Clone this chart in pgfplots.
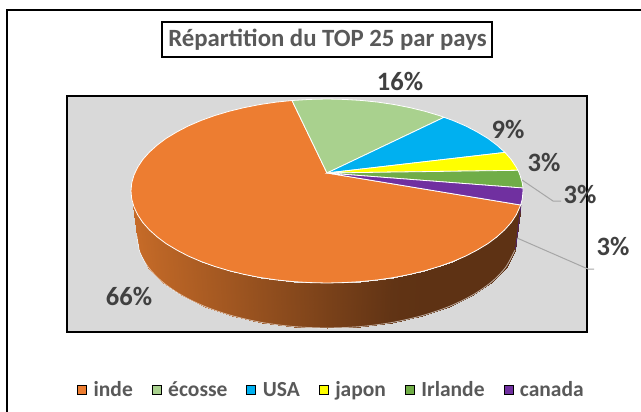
\documentclass[border=0pt]{standalone}
\usepackage{pgfplots}
\pgfplotsset{compat=1.18}
\usepackage{fontspec}
\setmainfont{Carlito}
\definecolor{cInde}{HTML}{ED7D31}
\definecolor{cEcosse}{HTML}{A9D18E}
\definecolor{cUSA}{HTML}{00B0F0}
\definecolor{cJapon}{HTML}{FFFF00}
\definecolor{cIrl}{HTML}{70AD47}
\definecolor{cCan}{HTML}{7030A0}
\definecolor{tLeg}{HTML}{595959}
\definecolor{tLab}{HTML}{404040}
\definecolor{bgG}{HTML}{D9D9D9}
\definecolor{lead}{HTML}{A6A6A6}
\newcommand{\lab}[3]{\node[text=tLab,font=\bfseries\fontsize{26.5}{26.5}\selectfont,inner sep=0pt] at (axis cs:#1,#2) {#3};}
\begin{document}
\begin{tikzpicture}
\path[use as bounding box] (0,0) rectangle (641pt,412pt);
\begin{axis}[
  hide axis, scale only axis, width=641pt, height=412pt,
  xmin=0, xmax=641, ymin=0, ymax=412, y dir=reverse,
  colormap={side}{rgb255(0)=(198,107,40); rgb255(1)=(94,50,20)},
  point meta min=0, point meta max=1,
  legend columns=6,
  legend cell align=left,
  legend image code/.code={\fill[#1] (0pt,-4.5pt) rectangle (9pt,4.5pt);},
  legend style={draw=none, fill=none, at={(axis cs:331.5,390)}, anchor=center,
    font=\bfseries\fontsize{21.5}{21.5}\selectfont, text=tLeg, inner sep=0pt,
    /tikz/every even column/.append style={column sep=17pt},
    /tikz/every odd column/.append style={column sep=5pt}},
]
\addlegendimage{fill=cInde}\addlegendentry{inde}
\addlegendimage{fill=cEcosse}\addlegendentry{écosse}
\addlegendimage{fill=cUSA}\addlegendentry{USA}
\addlegendimage{fill=cJapon}\addlegendentry{japon}
\addlegendimage{fill=cIrl}\addlegendentry{Irlande}
\addlegendimage{fill=cCan}\addlegendentry{canada}

% outer frame
\addplot[forget plot, black, line width=2pt] coordinates {(7,412) (7,10) (641,10)};
% plot area
\addplot[forget plot, fill=bgG, draw=black, line width=1.8pt] coordinates {(67,96) (587,96) (587,332) (67,332)} -- cycle;
% title box
\addplot[forget plot, fill=white, draw=black, line width=1.5pt] coordinates {(162,22) (492,22) (492,57) (162,57)} -- cycle;

% side wall of the pie
\addplot[forget plot, patch, patch type=rectangle, shader=interp, point meta=explicit] table[meta=m] {
x y m
131 191 0
134 207 .01
139.9 252 .01
137 236 0
134 207 .01
142.8 222.5 .04
148.5 267.5 .04
139.9 252 .01
142.8 222.5 .04
157.3 237 .10
162.5 282 .10
148.5 267.5 .04
157.3 237 .10
176.9 250.1 .17
181.5 295.1 .17
162.5 282 .10
176.9 250.1 .17
201 261.5 .26
204.9 306.5 .26
181.5 295.1 .17
201 261.5 .26
229 270.7 .36
232 315.7 .36
204.9 306.5 .26
229 270.7 .36
260 277.5 .48
262 322.5 .48
232 315.7 .36
260 277.5 .48
293 281.6 .60
294 326.6 .60
262 322.5 .48
293 281.6 .60
327 283 .73
327 328 .73
294 326.6 .60
327 283 .73
361 281.6 .85
360 326.6 .85
327 328 .73
361 281.6 .85
394 277.5 .97
392 322.5 .97
360 326.6 .85
394 277.5 .97
425 270.7 1
422 315.7 1
392 322.5 .97
425 270.7 1
453 261.5 1
449.1 306.5 1
422 315.7 1
453 261.5 1
477.1 250.1 1
472.5 295.1 1
449.1 306.5 1
477.1 250.1 1
496.7 237 1
491.5 282 1
472.5 295.1 1
496.7 237 1
511.2 222.5 1
505.5 267.5 1
491.5 282 1
511.2 222.5 1
520.7 205 1
515 250 1
505.5 267.5 1
};
\addplot[forget plot, color=cCan!70!black, line width=.8pt] coordinates {(521,205) (515.5,249)};
\addplot[forget plot, white, opacity=.6, line width=.8pt, smooth] coordinates {(137,236) (139.9,252) (148.5,267.5) (162.5,282) (181.5,295.1) (204.9,306.5) (232,315.7) (262,322.5) (294,326.6) (327,328) (360,326.6) (392,322.5) (422,315.7) (449.1,306.5) (472.5,295.1) (491.5,282) (505.5,267.5) (515,250)};

% top faces
\addplot[forget plot, fill=cInde, draw=white, line width=.8pt] coordinates {(327,173) (520.7,205) (516.3,214.8) (511.2,222.5) (504.6,229.9) (496.7,237) (487.6,243.8) (477.1,250.1) (465.6,256.1) (453,261.5) (439.4,266.4) (425,270.7) (409.8,274.4) (394,277.5) (377.7,279.9) (361,281.6) (344.1,282.6) (327,283) (309.9,282.6) (293,281.6) (276.3,279.9) (260,277.5) (244.2,274.4) (229,270.7) (214.6,266.4) (201,261.5) (188.4,256.1) (176.9,250.1) (166.4,243.8) (157.3,237) (149.4,229.9) (142.8,222.5) (137.7,214.8) (134,207) (131.7,199) (131,191) (131.7,183) (134,175) (137.7,167.2) (142.8,159.5) (149.4,152.1) (157.3,145) (166.4,138.2) (176.9,131.9) (188.4,125.9) (201,120.5) (214.6,115.6) (229,111.3) (244.2,107.6) (260,104.5) (276.3,102.1) (292,100.5)} -- cycle;
\addplot[forget plot, fill=cEcosse, draw=white, line width=.8pt] coordinates {(327,173) (292,100.5) (309.9,99.4) (327,99) (344.1,99.4) (361,100.4) (377.7,102.1) (394,104.5) (409.8,107.6) (425,111.3) (439.4,115.6) (444,117.3)} -- cycle;
\addplot[forget plot, fill=cUSA, draw=white, line width=.8pt] coordinates {(327,173) (444,117.3) (453,120.5) (465.6,125.9) (477.1,131.9) (487.6,138.2) (496.7,145) (505,152.4)} -- cycle;
\addplot[forget plot, fill=cJapon, draw=white, line width=.8pt] coordinates {(327,173) (505,152.4) (511.2,159.5) (516.3,167.2) (518,170.3)} -- cycle;
\addplot[forget plot, fill=cIrl, draw=white, line width=.8pt] coordinates {(327,173) (518,170.3) (520,175) (522.3,183) (523,188)} -- cycle;
\addplot[forget plot, fill=cCan, draw=white, line width=.8pt] coordinates {(327,173) (523,188) (523,191) (522.3,199) (520.7,205)} -- cycle;

% leader lines
\addplot[forget plot, lead, line width=1pt] coordinates {(522,180) (553,201) (561,201)};
\addplot[forget plot, lead, line width=1pt] coordinates {(517,238) (588,269) (594,269)};

% texts
\node[text=tLeg,font=\bfseries\fontsize{24.8}{24.8}\selectfont,inner sep=0pt] at (axis cs:327.5,40) {Répartition du TOP 25 par pays};
\lab{400}{81}{16\%}
\lab{508}{129}{9\%}
\lab{544}{162}{3\%}
\lab{580}{194}{3\%}
\lab{613}{246}{3\%}
\lab{129}{296}{66\%}
\end{axis}
\end{tikzpicture}
\end{document}
